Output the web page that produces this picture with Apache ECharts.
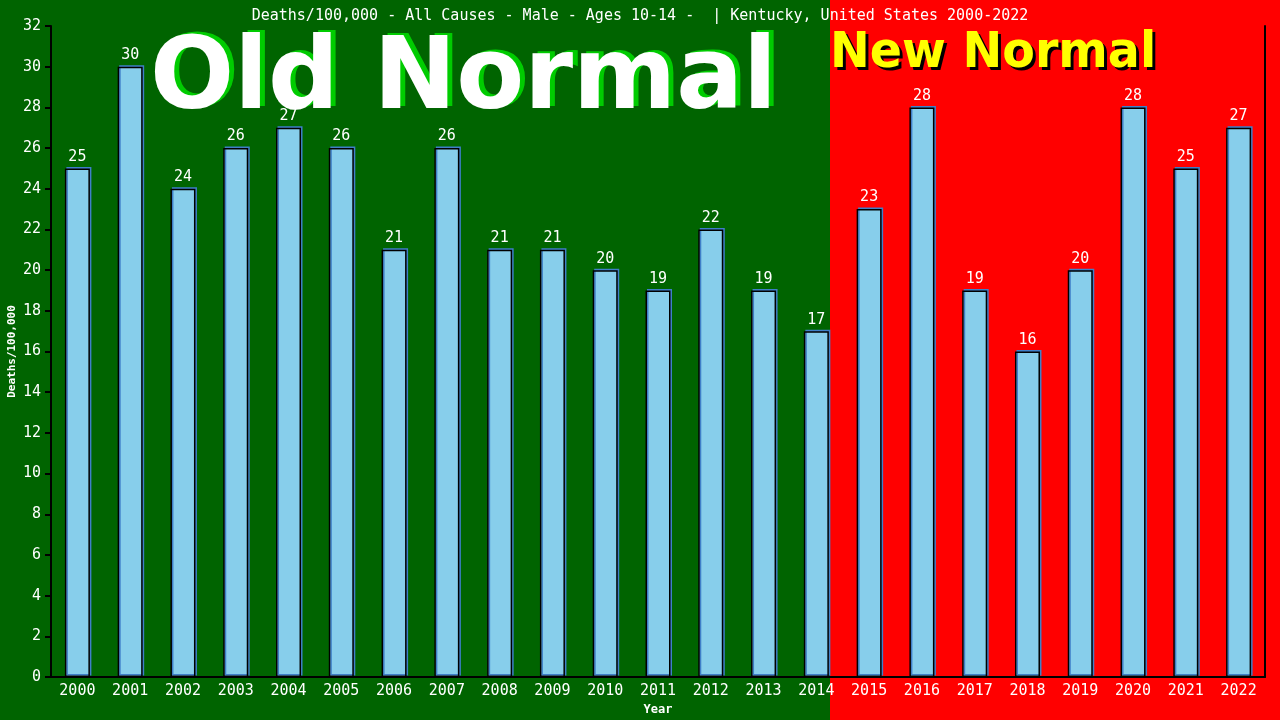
<!DOCTYPE html>
<html>
<head>
<meta charset="utf-8">
<script src="https://cdn.jsdelivr.net/npm/echarts@6/dist/echarts.min.js"></script>
<style>
html,body{margin:0;padding:0;background:#000;}
#chart{width:1280px;height:720px;}
</style>
</head>
<body>
<div id="chart"></div>
<script>
var years = ['2000','2001','2002','2003','2004','2005','2006','2007','2008','2009','2010','2011','2012','2013','2014','2015','2016','2017','2018','2019','2020','2021','2022'];
var deathsPer100k = [25,30,24,26,27,26,21,26,21,21,20,19,22,19,17,23,28,19,16,20,28,25,27];
var lastOldYear = '2014';
var titleText = 'Deaths/100,000 - All Causes - Male - Ages 10-14 -  | Kentucky, United States 2000-2022';
var yAxisName = 'Deaths/100,000';
var xAxisName = 'Year';
var oldLabel = 'Old Normal';
var newLabel = 'New Normal';

var mono = '"DejaVu Sans Mono", "Liberation Mono", monospace';
var chart = echarts.init(document.getElementById('chart'), null, {renderer: 'canvas'});
var BAR_W = 25;
var Y_MIN = 0, Y_MAX = 32;

chart.setOption({
  animation: false,
  backgroundColor: 'transparent',
  title: {
    text: titleText, left: 'center', top: 4,
    textStyle: {color: '#fff', fontFamily: mono, fontSize: 15, fontWeight: 'normal'}
  },
  grid: {left: 51, right: 15, top: 26, bottom: 43, containLabel: false, outerBoundsMode: 'none'},
  xAxis: {
    type: 'category', data: years,
    name: xAxisName, nameLocation: 'middle', nameGap: 26,
    nameTextStyle: {color: '#fff', fontFamily: mono, fontSize: 12, fontWeight: 'bold'},
    axisLine: {show: true, lineStyle: {color: '#000', width: 2}},
    axisTick: {show: false},
    axisLabel: {color: '#fff', fontFamily: mono, fontSize: 15, margin: 7, interval: 0},
    splitLine: {show: false}
  },
  yAxis: [{
    type: 'value', min: Y_MIN, max: Y_MAX, interval: 2,
    axisLine: {show: true, lineStyle: {color: '#000', width: 2}},
    axisTick: {show: true, length: 6, lineStyle: {color: '#000', width: 2}},
    axisLabel: {color: '#fff', fontFamily: mono, fontSize: 15, margin: 10},
    splitLine: {show: false}
  }, {
    type: 'value', min: Y_MIN, max: Y_MAX, interval: 2, position: 'right',
    axisLine: {show: true, lineStyle: {color: '#000', width: 2}},
    axisTick: {show: false}, axisLabel: {show: false}, splitLine: {show: false}
  }],
  series: [{
    type: 'bar', data: deathsPer100k, barWidth: BAR_W, z: 2,
    itemStyle: {
      color: '#87CEEB', borderColor: '#000', borderWidth: 1.5,
      shadowColor: '#3f7fc8', shadowOffsetX: 1.5, shadowOffsetY: -1.5, shadowBlur: 0
    },
    label: {show: true, position: 'top', distance: 4, color: '#fff', fontFamily: mono, fontSize: 15}
  }]
});

var splitX = Math.round(chart.convertToPixel({xAxisIndex: 0}, lastOldYear) + BAR_W / 2 + 1);
var midY = chart.convertToPixel({yAxisIndex: 0}, (Y_MIN + Y_MAX) / 2);
var W = chart.getWidth(), H = chart.getHeight();
var bigFont = 'bold 100px "DejaVu Sans", sans-serif';
var newFont = 'bold 49px "DejaVu Sans", sans-serif';
var oldX = 150, oldY = 82;
var newX = splitX, newY = 54;

chart.setOption({
  graphic: [
    {type: 'rect', z: -100, silent: true, shape: {x: 0, y: 0, width: splitX, height: H}, style: {fill: '#006400'}},
    {type: 'rect', z: -100, silent: true, shape: {x: splitX, y: 0, width: W - splitX, height: H}, style: {fill: '#ff0000'}},
    {type: 'text', z: 50, silent: true, x: 12, y: midY, rotation: Math.PI / 2,
      style: {text: yAxisName, font: 'bold 11px "DejaVu Sans Mono", monospace', fill: '#ffffff', align: 'center', verticalAlign: 'middle'}},
    {type: 'text', z: 100, silent: true, x: oldX + 5, y: oldY - 2, scaleX: 0.99,
      style: {text: oldLabel, font: bigFont, fill: '#00cc00', verticalAlign: 'middle', align: 'left'}},
    {type: 'text', z: 101, silent: true, x: oldX, y: oldY, scaleX: 0.99,
      style: {text: oldLabel, font: bigFont, fill: '#ffffff', verticalAlign: 'middle', align: 'left'}},
    {type: 'text', z: 100, silent: true, x: newX + 3, y: newY + 3, scaleX: 0.97,
      style: {text: newLabel, font: newFont, fill: '#000000', verticalAlign: 'middle', align: 'left'}},
    {type: 'text', z: 101, silent: true, x: newX, y: newY, scaleX: 0.97,
      style: {text: newLabel, font: newFont, fill: '#ffff00', verticalAlign: 'middle', align: 'left'}}
  ]
});
</script>
</body>
</html>
